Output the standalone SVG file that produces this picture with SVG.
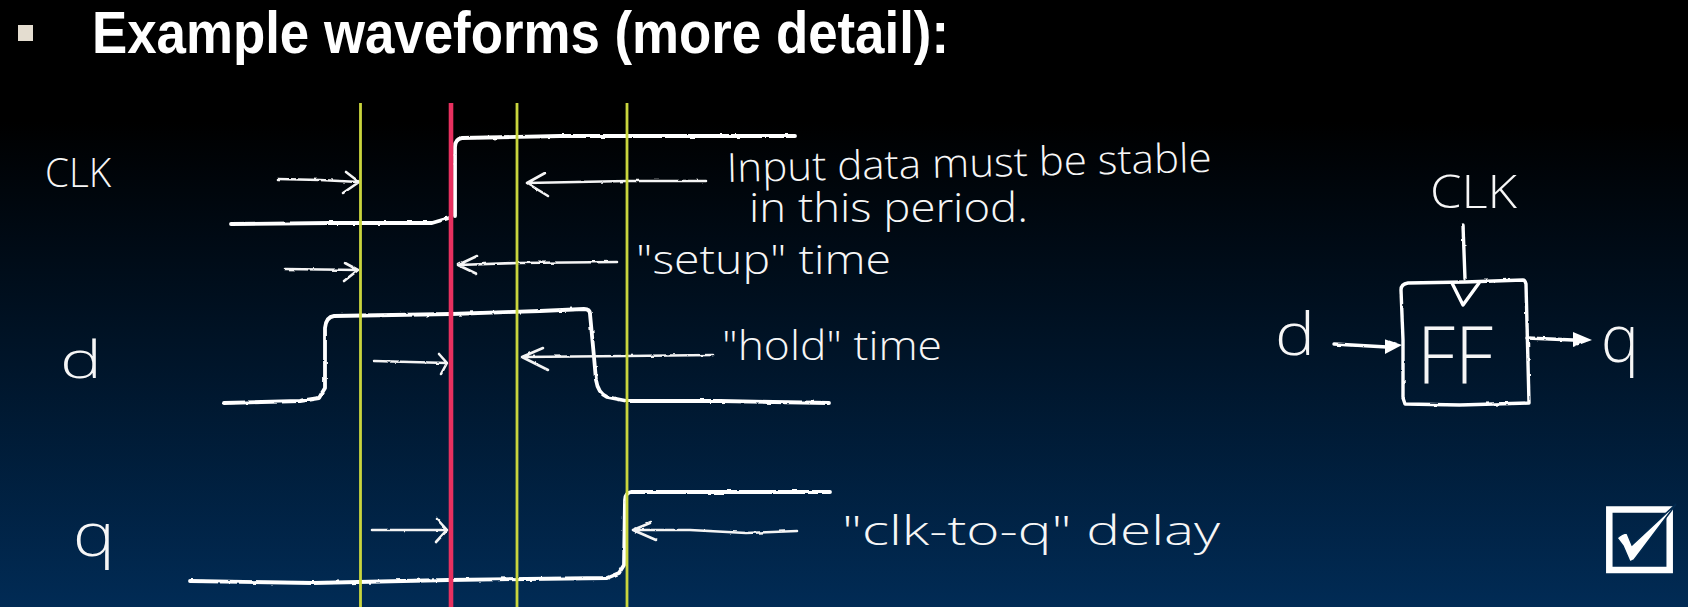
<svg xmlns="http://www.w3.org/2000/svg" width="1688" height="607" viewBox="0 0 1688 607">
<style>
.w{fill:none;stroke:#fff;stroke-width:3.8;stroke-linecap:round;stroke-linejoin:round}
.a{fill:none;stroke:#f4f4f4;stroke-width:2.6;stroke-linecap:round;stroke-linejoin:round}
.b{fill:none;stroke:#fff;stroke-width:3.4;stroke-linecap:round;stroke-linejoin:round}
.y{stroke:#c9d53d;stroke-width:2.8}
.h{font-family:"Open Sans","Lato","Liberation Sans",sans-serif;font-weight:300;fill:#f6f6f6;font-size:40px}
</style>
<defs>
<linearGradient id="bg" x1="0" y1="0" x2="0" y2="1">
<stop offset="0" stop-color="#000"/><stop offset="0.2" stop-color="#000"/><stop offset="0.6" stop-color="#00152a"/><stop offset="1" stop-color="#012b55"/>
</linearGradient>
<filter id="rough" x="-5%" y="-5%" width="110%" height="110%">
<feTurbulence type="fractalNoise" baseFrequency="0.12" numOctaves="2" seed="4"/>
<feDisplacementMap in="SourceGraphic" scale="2.4" xChannelSelector="R" yChannelSelector="G"/>
</filter>
</defs>
<rect width="1688" height="607" fill="url(#bg)"/>
<g id="title">
<rect x="18" y="25" width="15" height="16" fill="#e4ddd0"/>
<text x="92" y="52.5" font-family="Liberation Sans, Arial, sans-serif" font-weight="700" font-size="59" fill="#fff" textLength="857" lengthAdjust="spacingAndGlyphs">Example waveforms (more detail):</text>
</g>
<g id="connectors" filter="url(#rough)">
<path id="clk-wave" class="w" d="M231 224 L330 223 L432 223 L449 218 M455 216 L455 147 Q455 139 462 138 L560 136 L598 136 L700 136 L795 136"/>
<path id="d-wave" class="w" d="M224 403 L300 401 L319 398 L325 388 L325 328 Q326 317 334 316 L451 314 L540 311 L584 309 Q590 309 590 314 L594 357 L596 380 Q598 393 607 397 L627 401 L720 401 L829 403"/>
<path id="q-wave" class="w" d="M190 581 L313 583 L448 580 L607 578 L619 573 L624 565 L625 500 Q625 493 631 492 L721 492 L830 492"/>
<path class="a" d="M278 179 L320 180 L359 182 M346 172 L359 182 L343 193"/>
<path class="a" d="M706 181 L627 181 L527 183 M545 173 L527 183 L548 196"/>
<path class="a" d="M285 269 L358 270 M345 263 L358 270 L344 281"/>
<path class="a" d="M617 262 L517 263 L458 265 M477 256 L458 265 L477 274"/>
<path class="a" d="M374 361 L447 363 M439 354 L447 363 L441 374"/>
<path class="a" d="M713 355 L627 356 L522 357 M543 348 L522 357 L548 370"/>
<path class="a" d="M372 530 L447 530 M437 519 L447 530 L436 542"/>
<path class="a" d="M797 531 L746 533 L690 530 L633 530 M650 523 L633 530 L656 540"/>
<path class="b" d="M1463 225 L1465 279"/>
<path class="b" d="M1334 344 L1387 347"/>
<path fill="#fff" d="M1385 339 L1402 345 L1385 354Z"/>
<path class="b" d="M1527 338 L1573 340"/>
<path fill="#fff" d="M1573 332 L1592 340 L1573 347Z"/>
</g>
<g id="time-markers">
<line class="y" x1="360.5" y1="103" x2="360.5" y2="607"/>
<line x1="451" y1="103" x2="451" y2="607" stroke="#e8305f" stroke-width="4.6"/>
<line class="y" x1="517" y1="103" x2="517" y2="607"/>
<line class="y" x1="627" y1="103" x2="627" y2="607"/>
</g>
<g id="label-clk"><text class="h" x="45" y="187" textLength="66" lengthAdjust="spacingAndGlyphs">CLK</text></g>
<g id="label-d"><text class="h" x="60" y="378" style="font-size:52px" textLength="42" lengthAdjust="spacingAndGlyphs">d</text></g>
<g id="label-q"><text class="h" x="73" y="556" style="font-size:60px" textLength="42" lengthAdjust="spacingAndGlyphs">q</text></g>
<g id="note-stable">
<text class="h" x="727" y="182" textLength="485" lengthAdjust="spacingAndGlyphs" transform="rotate(-1.2 727 182)">Input data must be stable</text>
<text class="h" x="749" y="222" textLength="279" lengthAdjust="spacingAndGlyphs">in this period.</text>
</g>
<g id="note-setup"><text class="h" x="636" y="274" textLength="255" lengthAdjust="spacingAndGlyphs">"setup" time</text></g>
<g id="note-hold"><text class="h" x="722" y="360" textLength="220" lengthAdjust="spacingAndGlyphs">"hold" time</text></g>
<g id="note-clk-to-q"><text class="h" x="842" y="545" textLength="378" lengthAdjust="spacingAndGlyphs">"clk-to-q" delay</text></g>
<g id="ff">
<path class="b" filter="url(#rough)" d="M1401 290 Q1401 284 1408 283 L1465 282 L1523 280 Q1525 280 1526 284 L1529 403 L1460 405 L1405 404 L1403 398 L1403 340Z"/>
<path class="b" d="M1452 283 L1463 305 L1479 283"/>
<text class="h" x="1417" y="383" style="font-size:80px" textLength="76" lengthAdjust="spacingAndGlyphs">FF</text>
</g>
<g id="ff-clk"><text class="h" x="1430" y="208" style="font-size:46px" textLength="87" lengthAdjust="spacingAndGlyphs">CLK</text></g>
<g id="ff-d"><text class="h" x="1275" y="355" style="font-size:58px" textLength="40" lengthAdjust="spacingAndGlyphs">d</text></g>
<g id="ff-q"><text class="h" x="1601" y="362" style="font-size:66px" textLength="38" lengthAdjust="spacingAndGlyphs">q</text></g>
<g id="checkbox">
<rect x="1609.3" y="509.5" width="60.4" height="60.5" fill="none" stroke="#fff" stroke-width="6.5"/>
<path fill="#fff" stroke="#012a50" stroke-width="1.5" d="M1617 538 Q1622 533 1627 533 L1632 545 L1676 504 L1671 511 L1634 560 L1630 562 L1623 546Z"/>
</g>
</svg>
